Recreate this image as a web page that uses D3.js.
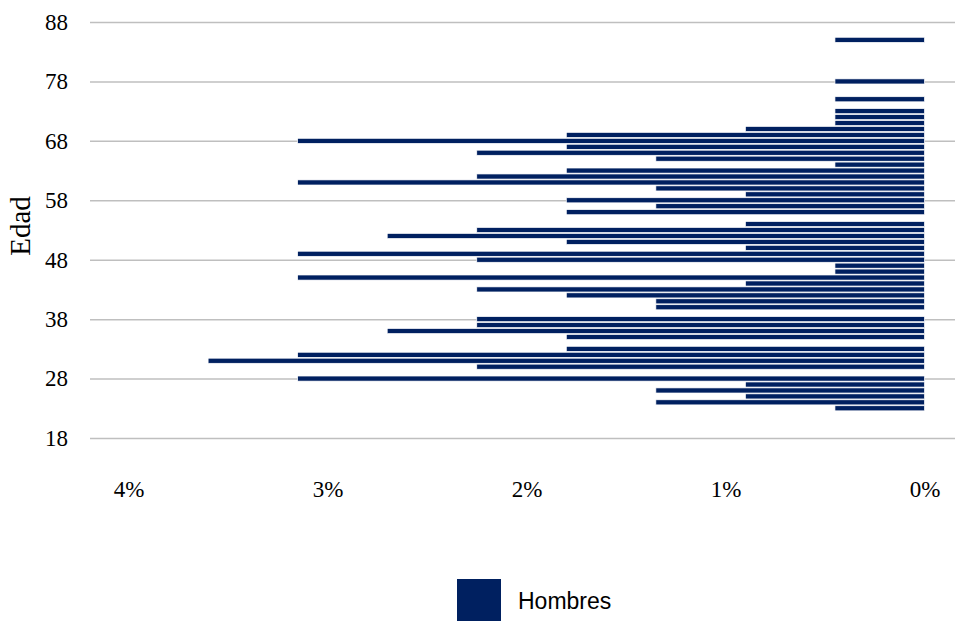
<!DOCTYPE html>
<html>
<head>
<meta charset="utf-8">
<script src="https://cdn.jsdelivr.net/npm/d3@7"></script>
<style>
  html, body { margin: 0; padding: 0; background: #fff; }
  svg { display: block; }
</style>
</head>
<body>
<svg id="chart" width="957" height="621"></svg>
<script>
// ---- data ----
const ages = [85,78,75,73,72,71,70,69,68,67,66,65,64,63,62,61,60,59,58,57,56,
              54,53,52,51,50,49,48,47,46,45,44,43,42,41,40,
              38,37,36,35,33,32,31,30,28,27,26,25,24,23];
const hombres = [0.45,0.45,0.45,0.45,0.45,0.45,0.90,1.80,3.15,1.80,2.25,1.35,0.45,1.80,2.25,3.15,1.35,0.90,1.80,1.35,1.80,
                 0.90,2.25,2.70,1.80,0.90,3.15,2.25,0.45,0.45,3.15,0.90,2.25,1.80,1.35,1.35,
                 2.25,2.25,2.70,1.80,1.80,3.15,3.60,2.25,3.15,0.90,1.35,0.90,1.35,0.45];
const yTicks = [18,28,38,48,58,68,78,88];
const xTicks = [4,3,2,1,0];
const seriesName = "Hombres";
const yTitle = "Edad";
const barColor = "#002060";

// ---- layout ----
const svg = d3.select("#chart");
const x = d3.scaleLinear().domain([4, 0]).range([128.5, 924.5]);
const y = d3.scaleLinear().domain([18, 88]).range([438, 22]);
const gridLeft = 90, gridRight = 955;
const serif = "'Liberation Serif', 'Times New Roman', serif";
const sans = "'Liberation Sans', Arial, sans-serif";

// gridlines
const grid = svg.append("g").attr("transform", `translate(${gridLeft},0)`)
  .call(d3.axisLeft(y).tickValues(yTicks).tickSize(-(gridRight - gridLeft)).tickFormat(""));
grid.select(".domain").remove();
grid.selectAll("line").attr("stroke", "#bfbfbf").attr("stroke-width", 1.5);

// y axis labels
const yAxis = svg.append("g").attr("transform", "translate(68,0)")
  .call(d3.axisLeft(y).tickValues(yTicks).tickSize(0).tickPadding(0).tickFormat(d3.format("d")));
yAxis.select(".domain").remove();
yAxis.selectAll("text").attr("font-family", serif).attr("font-size", 23).attr("fill", "#000");

// x axis labels
const xAxis = svg.append("g").attr("transform", "translate(0,481)")
  .call(d3.axisBottom(x).tickValues(xTicks).tickSize(0).tickPadding(0).tickFormat(d => d + "%"));
xAxis.select(".domain").remove();
xAxis.selectAll("text").attr("font-family", serif).attr("font-size", 23).attr("fill", "#000");

// bars
const data = ages.map((a, i) => ({age: a, v: hombres[i]}));
const barH = 5.1;
svg.append("g").selectAll("rect").data(data).join("rect")
  .attr("x", d => x(d.v))
  .attr("y", d => y(d.age) - barH / 2)
  .attr("width", d => x(0) - x(d.v))
  .attr("height", barH)
  .attr("fill", barColor)
  .attr("stroke", "#fff")
  .attr("stroke-width", 0.7);

// y title
svg.append("text")
  .attr("transform", `translate(30,226) rotate(-90)`)
  .attr("text-anchor", "middle")
  .attr("font-family", serif).attr("font-size", 29).attr("fill", "#000")
  .text(yTitle);

// legend
const lg = svg.append("g");
lg.append("rect").attr("x", 457).attr("y", 579).attr("width", 44).attr("height", 44).attr("fill", barColor);
lg.append("text").attr("x", 518).attr("y", 609)
  .attr("font-family", sans).attr("font-size", 23).attr("fill", "#000")
  .text(seriesName);
</script>
</body>
</html>
